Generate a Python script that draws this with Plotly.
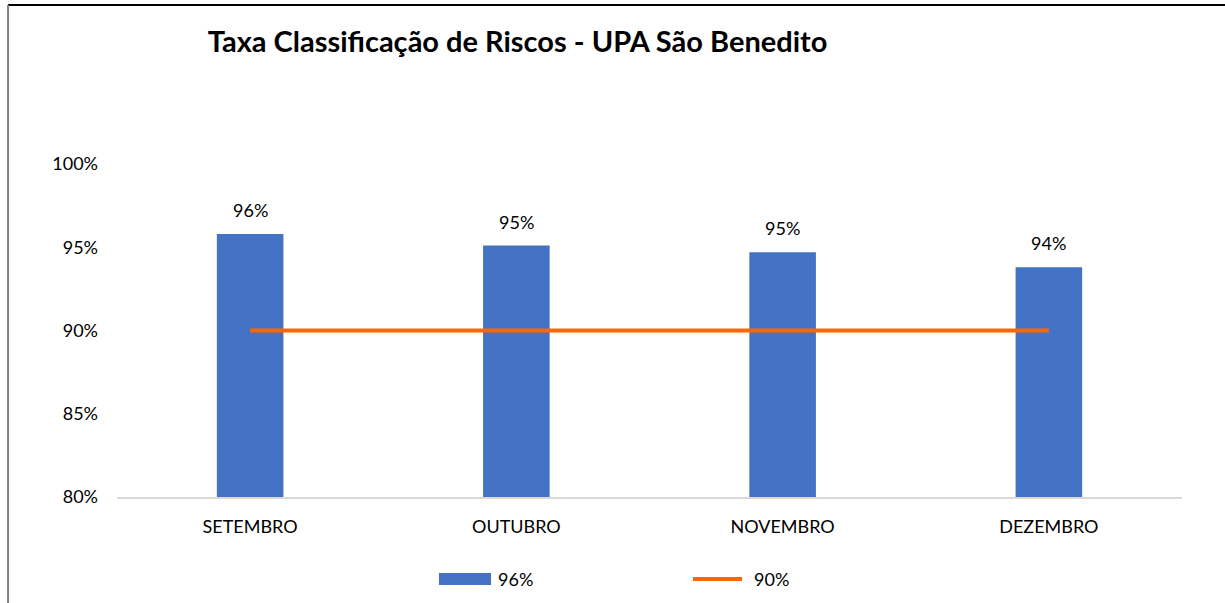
import plotly.graph_objects as go

meses = ["SETEMBRO", "OUTUBRO", "NOVEMBRO", "DEZEMBRO"]
taxa = [0.958, 0.951, 0.947, 0.938]
meta = [0.90, 0.90, 0.90, 0.90]
nome_taxa = "96%"
nome_meta = "90%"
y_ticks = [0.80, 0.85, 0.90, 0.95, 1.00]

AZUL = "#4472C4"
LARANJA = "#FF6600"
FONTE = "Lato, 'Open Sans', sans-serif"

fig = go.Figure()

fig.add_trace(
    go.Bar(
        x=meses,
        y=taxa,
        name=nome_taxa,
        marker={"color": AZUL, "line": {"width": 0}},
        width=0.25,
        hoverinfo="skip",
    )
)
fig.add_trace(
    go.Scatter(
        x=meses,
        y=meta,
        name=nome_meta,
        mode="lines",
        line={"color": LARANJA, "width": 4},
        hoverinfo="skip",
    )
)

# rótulos de dados acima das barras
annotations = []
for m, v in zip(meses, taxa):
    annotations.append(dict(
        x=m, y=v, xref="x", yref="y",
        text=f"{v:.0%}", showarrow=False,
        yanchor="bottom", yshift=11,
        font=dict(family=FONTE, size=18, color="#000000"),
    ))

# legenda desenhada à mão (retângulo largo como no Excel)
annotations.append(dict(
    x=0.3559, y=-0.246, xref="paper", yref="paper", text=nome_taxa,
    showarrow=False, xanchor="left", yanchor="middle",
    font=dict(family=FONTE, size=18, color="#000000"),
))
annotations.append(dict(
    x=0.5962, y=-0.246, xref="paper", yref="paper", text=nome_meta,
    showarrow=False, xanchor="left", yanchor="middle",
    font=dict(family=FONTE, size=18, color="#000000"),
))
# resto de texto cortado no topo
annotations.append(dict(
    x=0.2533, y=1.494, xref="paper", yref="paper", text="ç",
    showarrow=False, xanchor="center", yanchor="bottom", yshift=-3,
    font=dict(family=FONTE, size=17, color="#000000"),
))

shapes = [
    dict(type="rect", xref="paper", yref="paper",
         x0=0.3023, x1=0.3512, y0=-0.228, y1=-0.264,
         fillcolor=AZUL, line={"width": 0}),
    dict(type="line", xref="paper", yref="paper",
         x0=0.5408, x1=0.5869, y0=-0.246, y1=-0.246,
         line={"color": LARANJA, "width": 4}),
    # moldura
    dict(type="line", xref="paper", yref="paper",
         x0=-0.1023, x1=1.06, y0=1.4775, y1=1.4775,
         line={"color": "#000000", "width": 2}),
    dict(type="line", xref="paper", yref="paper",
         x0=-0.1023, x1=-0.1023, y0=1.4775, y1=-0.33,
         line={"color": "#7F7F7F", "width": 2}),
]

fig.update_layout(
    width=1225,
    height=603,
    margin={"l": 117, "r": 43, "t": 164, "b": 106},
    paper_bgcolor="#FFFFFF",
    plot_bgcolor="#FFFFFF",
    showlegend=False,
    title=dict(
        text="<b>Taxa Classificação de Riscos - UPA São Benedito</b>",
        x=0.4225, xanchor="center",
        y=0.93, yanchor="middle",
        font=dict(family=FONTE, size=29, color="#000000"),
    ),
    font=dict(family=FONTE, size=18, color="#000000"),
    annotations=annotations,
    shapes=shapes,
    xaxis=dict(
        showgrid=False,
        showline=True,
        linecolor="#D9D9D9",
        linewidth=2,
        ticks="",
        ticklabelstandoff=12,
        tickfont=dict(family=FONTE, size=18, color="#000000"),
    ),
    yaxis=dict(
        range=[0.80, 1.00],
        tickvals=y_ticks,
        tickformat=".0%",
        showgrid=False,
        showline=False,
        zeroline=False,
        ticks="",
        ticklabelstandoff=18,
        tickfont=dict(family=FONTE, size=18, color="#000000"),
    ),
)

fig.write_html(
    "out.html",
    config={"displayModeBar": False},
    post_script="document.body.style.margin='0';",
)
